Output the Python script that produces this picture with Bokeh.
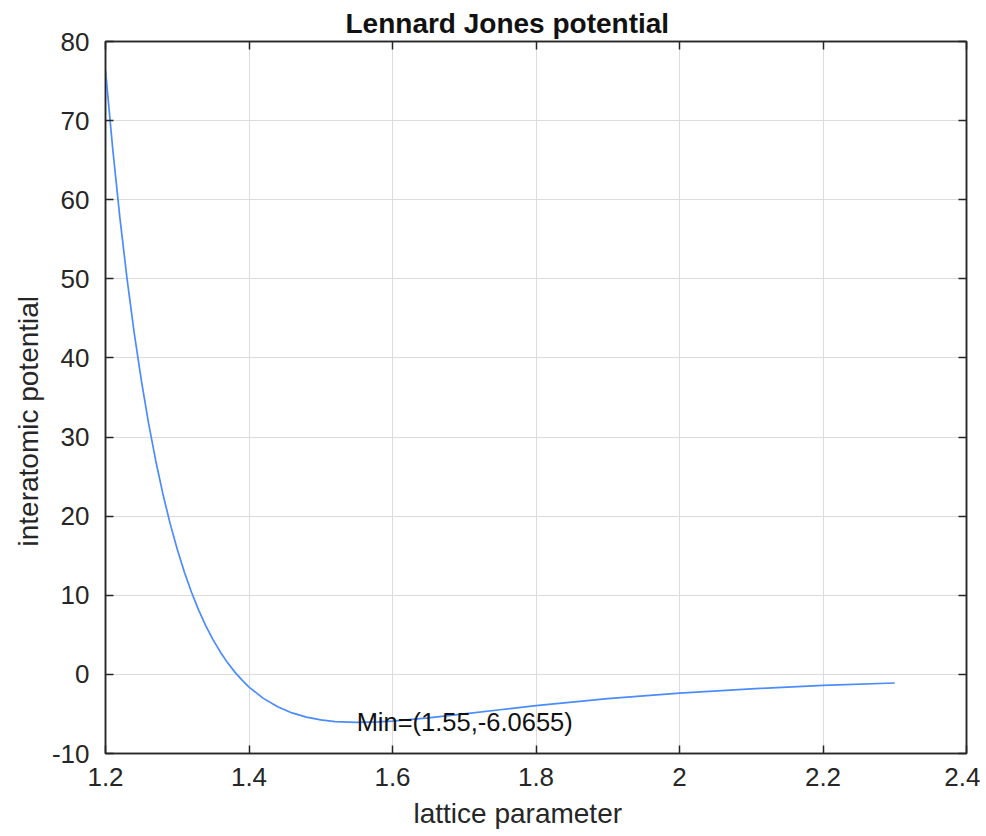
from bokeh.plotting import figure
from bokeh.models import LinearAxis, FixedTicker, Range1d, Title
from bokeh.core.properties import value
from bokeh.embed import file_html
from bokeh.resources import INLINE

# ---- data ----
lattice = [1.20, 1.21, 1.22, 1.23, 1.24, 1.25, 1.26, 1.27, 1.28, 1.29,
           1.30, 1.31, 1.32, 1.33, 1.34, 1.35, 1.36, 1.37, 1.38, 1.39,
           1.40, 1.42, 1.44, 1.46, 1.48, 1.50, 1.52, 1.55, 1.58, 1.60,
           1.65, 1.70, 1.75, 1.80, 1.85, 1.90, 2.00, 2.10, 2.20, 2.30]
potential = [76.35, 66.50, 57.76, 50.03, 43.18, 37.12, 31.75, 27.01, 22.81, 19.09,
             15.81, 12.91, 10.35, 8.10, 6.11, 4.37, 2.84, 1.49, 0.32, -0.70,
             -1.60, -3.03, -4.10, -4.87, -5.40, -5.75, -5.96, -6.0655, -6.00, -5.90,
             -5.50, -4.99, -4.47, -3.96, -3.50, -3.07, -2.36, -1.82, -1.40, -1.09]

min_x = 1.55
min_y = -6.0655
min_label = "Min=(1.55,-6.0655)"

x_ticks = [1.2, 1.4, 1.6, 1.8, 2.0, 2.2, 2.4]
x_tick_labels = ["1.2", "1.4", "1.6", "1.8", "2", "2.2", "2.4"]
y_ticks = [-10, 0, 10, 20, 30, 40, 50, 60, 70, 80]
y_tick_labels = ["-10", "0", "10", "20", "30", "40", "50", "60", "70", "80"]

title_text = "Lennard Jones potential"
x_label = "lattice parameter"
y_label = "interatomic potential"

FONT = "Liberation Sans"
AX = "#262626"

W, H = 980, 836
p = figure(width=W, height=H, output_backend="svg", toolbar_location=None,
           x_range=Range1d(1.2, 2.4), y_range=Range1d(-10, 80),
           min_border_left=105, min_border_right=14, min_border_top=41,
           min_border_bottom=82)
p.background_fill_color = "white"
p.border_fill_color = "white"
p.outline_line_color = AX
p.outline_line_width = 1.5

xt = FixedTicker(ticks=x_ticks)
yt = FixedTicker(ticks=y_ticks)


def style_axis(ax, ticker, labels):
    ax.ticker = ticker
    ax.axis_line_color = AX
    ax.axis_line_width = 1.5
    ax.major_tick_line_color = AX
    ax.major_tick_line_width = 1.5
    ax.major_tick_in = 8
    ax.major_tick_out = 0
    ax.minor_tick_line_color = None
    ax.major_label_overrides = {t: s for t, s in zip(ticker.ticks, labels)}
    ax.major_label_text_font = FONT
    ax.major_label_text_color = AX
    ax.major_label_text_font_size = "26px"


style_axis(p.xaxis[0], xt, x_tick_labels)
p.xaxis[0].major_label_standoff = 14
style_axis(p.yaxis[0], yt, y_tick_labels)
p.yaxis[0].major_label_standoff = 16

# box ticks on the top and right edges (no labels)
top_ax = LinearAxis()
style_axis(top_ax, xt, ["" for _ in x_ticks])
top_ax.major_label_text_font_size = "1px"
top_ax.major_label_standoff = 0
p.add_layout(top_ax, "above")
right_ax = LinearAxis()
style_axis(right_ax, yt, ["" for _ in y_ticks])
right_ax.major_label_text_font_size = "1px"
right_ax.major_label_standoff = 0
p.add_layout(right_ax, "right")

for g in p.grid:
    g.grid_line_color = "#dcdcdc"
    g.grid_line_width = 1
p.xgrid[0].ticker = xt
p.ygrid[0].ticker = yt

p.line(lattice, potential, line_color="#4a8cff", line_width=1.7)

p.text(x=[min_x], y=[min_y], text=[min_label], text_align="left",
       text_baseline="middle", text_font=value(FONT), text_font_size="25.5px",
       text_color="#111111")

p.add_layout(Title(text=title_text, align="left", offset=240, standoff=6,
                   text_font=FONT, text_font_size="28px", text_font_style="bold",
                   text_color="#111111"), "above")
p.add_layout(Title(text=x_label, align="left", offset=308, standoff=15,
                   text_font=FONT, text_font_size="28px", text_font_style="normal",
                   text_color=AX), "below")
p.add_layout(Title(text=y_label, align="left", offset=207, standoff=10,
                   text_font=FONT, text_font_size="28px", text_font_style="normal",
                   text_color=AX), "left")

open("out.html", "w").write(file_html(p, INLINE))
